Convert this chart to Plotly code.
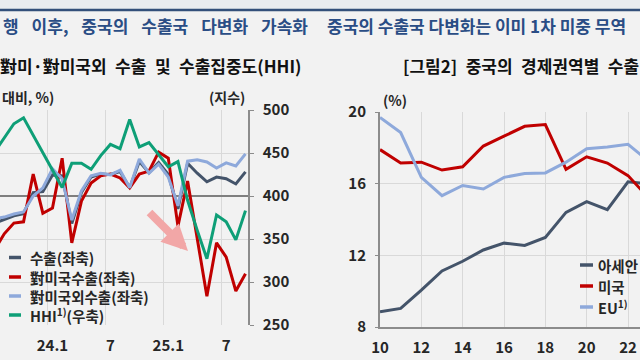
import plotly.graph_objects as go

# ---------------- Left chart data (monthly) ----------------
months = ["23.7", "23.8", "23.9", "23.10", "23.11", "23.12",
          "24.1", "24.2", "24.3", "24.4", "24.5", "24.6", "24.7", "24.8", "24.9", "24.10", "24.11", "24.12",
          "25.1", "25.2", "25.3", "25.4", "25.5", "25.6", "25.7", "25.8", "25.9"]
export_total = [-6.3, -5.4, -4.6, -4.1, 0.8, 1.0,
                4.9, 4.7, -6.4, 0.8, 4.4, 5.1, 5.0, 5.7, 1.9, 8.0, 5.4, 7.8,
                5.0, -3.0, 7.6, 5.3, 3.3, 4.4, 4.0, 2.8, 5.6]
export_us = [-12.5, -8.8, -6.3, -6.0, 5.1, -4.0,
             -2.8, 8.8, -10.9, -1.2, 3.0, 4.7, 5.1, 4.2, 1.9, 5.1, 5.8, 10.2,
             8.8, -7.0, 3.5, -9.8, -23.3, -10.9, -14.2, -22.1, -18.1]
export_nonus = [-5.3, -4.9, -4.2, -3.7, 0.0, 1.9,
                6.3, 4.0, -5.6, 1.2, 4.7, 5.3, 4.9, 6.0, 1.9, 8.6, 5.3, 7.4,
                4.4, -2.3, 8.1, 8.4, 7.9, 6.5, 7.7, 7.0, 9.8]
hhi = [451, 467, 484, 491, 471, 451,
       431, 410, 438, 438, 431, 447, 460, 455, 489, 457, 462, 448,
       434, 440, 395, 360, 327, 378, 370, 349, 383]
left_tick_months = ["24.1", "24.7", "25.1", "25.7"]
left_tick_text = ["24.1", "7", "25.1", "7"]
left_names = ["수출(좌축)", "對미국수출(좌축)", "對미국외수출(좌축)", "HHI<sup>1)</sup>(우축)"]

# ---------------- Right chart data (annual) ----------------
years = [10, 11, 12, 13, 14, 15, 16, 17, 18, 19, 20, 21, 22, 23]
asean = [8.85, 9.04, 10.06, 11.13, 11.67, 12.3, 12.68, 12.55, 13.0, 14.4, 15.0, 14.55, 16.1, 16.0]
usa = [17.9, 17.15, 17.2, 16.76, 16.94, 18.1, 18.65, 19.2, 19.3, 16.8, 17.5, 17.15, 16.45, 15.2]
eu = [19.7, 18.85, 16.35, 15.33, 15.9, 15.7, 16.35, 16.57, 16.6, 17.2, 17.95, 18.05, 18.2, 17.25]
right_names = ["아세안", "미국", "EU<sup>1)</sup>"]

C_DARK = "#44546A"
C_RED = "#C00000"
C_BLUE = "#8EA9DB"
C_GREEN = "#0E9F77"
GRID = "#D9D9D9"
AXIS = "#8C8C8C"
FONT = "Noto Sans CJK KR"
TXT = "#262626"

W, H = 640, 360
def px(x): return x / W
def py(y): return 1 - y / H

xi = list(range(len(months)))
tickpos = [months.index(m) for m in left_tick_months]
left_series = [(export_total, C_DARK, "y"), (export_us, C_RED, "y"),
               (export_nonus, C_BLUE, "y"), (hhi, C_GREEN, "y2")]
right_series = [(asean, C_DARK), (usa, C_RED), (eu, C_BLUE)]

fig = go.Figure()
for (vals, col, ya), name in zip(left_series, left_names):
    fig.add_trace(go.Scatter(x=xi, y=vals, name=name, mode="lines",
                             line=dict(color=col, width=3), xaxis="x", yaxis=ya))
for (vals, col), name in zip(right_series, right_names):
    fig.add_trace(go.Scatter(x=years, y=vals, name=name, mode="lines",
                             line=dict(color=col, width=3), xaxis="x2", yaxis="y3"))

i0 = months.index("24.1")
tickfont = dict(family=FONT, size=15, color=TXT, weight="bold")

fig.update_layout(
    width=W, height=H,
    margin=dict(l=0, r=0, t=0, b=0, autoexpand=False),
    paper_bgcolor="#F2F2F2", plot_bgcolor="rgba(0,0,0,0)",
    font=dict(family=FONT, color=TXT),
    showlegend=False,
    xaxis=dict(domain=[0, px(248)], range=[i0 - 5.44, i0 + 20.26], anchor="y", automargin=False,
               tickmode="array", tickvals=tickpos, ticktext=left_tick_text,
               showgrid=False, zeroline=False, showline=False, ticks="",
               minor=dict(tick0=i0 - 0.5, dtick=6, showgrid=True, gridcolor=GRID, gridwidth=1, ticks=""),
               tickfont=tickfont, ticklabelstandoff=10),
    yaxis=dict(domain=[py(325), py(110)], range=[-30, 20], dtick=10, anchor="x", automargin=False,
               showticklabels=False, ticks="", showgrid=True, gridcolor=GRID, gridwidth=1,
               zeroline=True, zerolinecolor="#7F7F7F", zerolinewidth=1.5),
    yaxis2=dict(overlaying="y", side="right", anchor="x", range=[250, 500], dtick=50, automargin=False,
                showgrid=False, zeroline=False, showline=True, linecolor=AXIS, linewidth=1.5,
                ticks="outside", ticklen=4, tickcolor=AXIS, tickfont=tickfont, ticklabelstandoff=6),
    xaxis2=dict(domain=[px(380), 1], range=[10, 22.58], tick0=10, dtick=2, anchor="y3", automargin=False,
                showgrid=True, gridcolor=GRID, zeroline=False, showline=True, linecolor=AXIS,
                linewidth=2, ticks="", tickfont=tickfont, ticklabelstandoff=6),
    yaxis3=dict(domain=[py(327), py(112)], range=[8, 20], dtick=4, anchor="x2", automargin=False,
                showgrid=True, gridcolor=GRID, zeroline=False, showline=True, linecolor=AXIS,
                linewidth=2, ticks="outside", ticklen=3, tickcolor=AXIS, tickfont=tickfont,
                ticklabelstandoff=6),
)

# Header band and rule
fig.add_shape(type="rect", xref="paper", yref="paper", x0=0, x1=1, y0=py(9), y1=1,
              fillcolor="#E9ECEF", line_width=0, layer="below")
fig.add_shape(type="line", xref="paper", yref="paper", x0=0, x1=1, y0=py(10), y1=py(10),
              line=dict(color="#33507A", width=2.5))

title_font = dict(family=FONT, size=17, color="#2A4D85", weight="bold")
sub_font = dict(family=FONT, size=17, color="#111111", weight="bold")
unit_font = dict(family=FONT, size=14, color=TXT, weight="bold")
leg_font = dict(family=FONT, size=14.5, color=TXT, weight="bold")

SP = "\u2002\u2009\u200a"
EN = "\u2002"
anns = [
    dict(text=SP.join(["행", "이후,", "중국의", "수출국", "다변화", "가속화"]), x=px(310), y=py(26),
         xanchor="right", yanchor="middle", font=title_font),
    dict(text="중국의 수출국 다변화는 이미 1차 미중 무역", x=px(325), y=py(26), xanchor="left",
         yanchor="middle", font=title_font),
    dict(text=EN.join(["對미·對미국외", "수출", "및", "수출집중도(HHI)"]), x=px(303), y=py(65),
         xanchor="right", yanchor="middle", font=sub_font),
    dict(text=EN.join(["[그림2]", "중국의", "경제권역별", "수출"]), x=px(401), y=py(65),
         xanchor="left", yanchor="middle", font=sub_font),
    dict(text="대비, %)", x=px(0), y=py(97), xanchor="left", yanchor="middle", font=unit_font),
    dict(text="(지수)", x=px(247), y=py(97), xanchor="right", yanchor="middle", font=unit_font),
    dict(text="(%)", x=px(381), y=py(100), xanchor="left", yanchor="middle", font=unit_font),
]
for a in anns:
    fig.add_annotation(xref="paper", yref="paper", showarrow=False, **a)

# Legends drawn as short line keys + labels (as in the reference)
left_rows = [257.5, 277, 296, 315]
for yy, (_, col, _), name in zip(left_rows, left_series, left_names):
    fig.add_shape(type="line", xref="paper", yref="paper", x0=px(9), x1=px(21), y0=py(yy), y1=py(yy),
                  line=dict(color=col, width=3.5))
    fig.add_annotation(xref="paper", yref="paper", x=px(29), y=py(yy), text=name, showarrow=False,
                       xanchor="left", yanchor="middle", font=leg_font, borderpad=0)
right_rows = [265, 286, 307]
for yy, (_, col), name in zip(right_rows, right_series, right_names):
    fig.add_shape(type="line", xref="paper", yref="paper", x0=px(580), x1=px(593), y0=py(yy), y1=py(yy),
                  line=dict(color=col, width=3.5))
    fig.add_annotation(xref="paper", yref="paper", x=px(597), y=py(yy), text=name, showarrow=False,
                       xanchor="left", yanchor="middle", font=leg_font, borderpad=0)

# Highlight arrow
fig.add_annotation(x=i0 + (188 - 52.5) / 9.65, y=(195 - 250) / 4.3, xref="x", yref="y",
                   ax=-40, ay=-40, axref="pixel", ayref="pixel", text="",
                   showarrow=True, arrowhead=2, arrowsize=0.65, arrowwidth=8, arrowcolor="#F2A7A7")

fig.write_html("out.html", config={"displayModeBar": False},
               post_script="document.body.style.margin='0';document.body.style.overflow='hidden';")
